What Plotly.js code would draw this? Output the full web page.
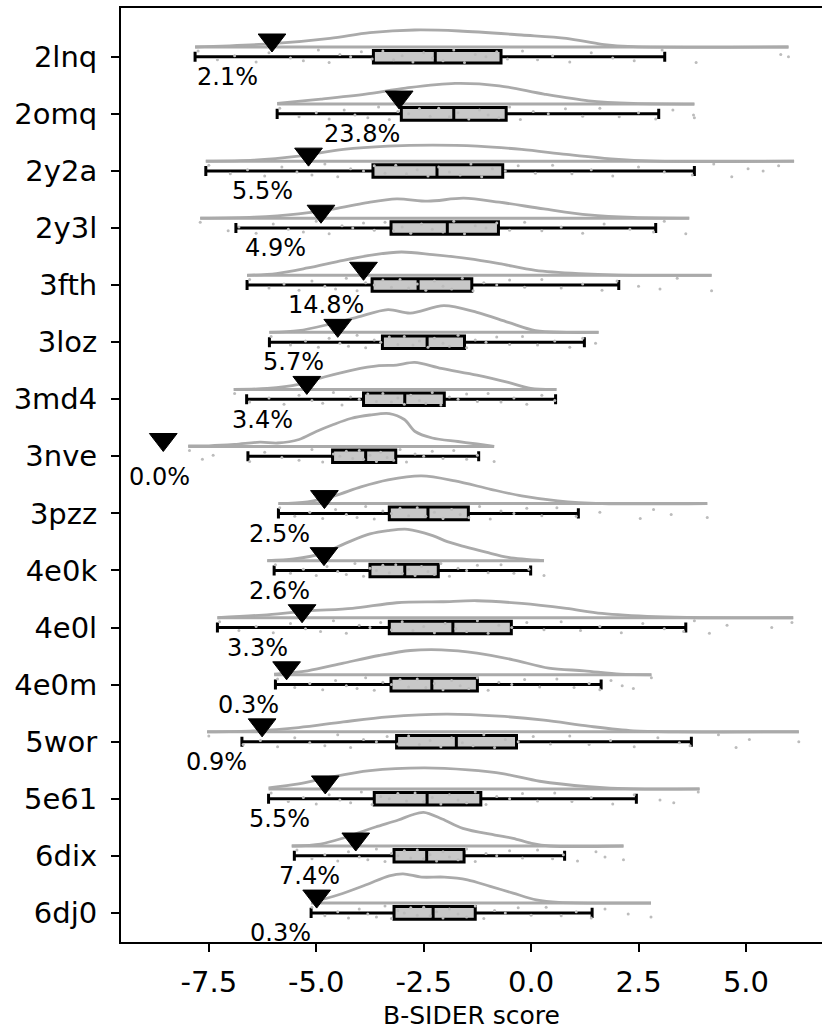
<!DOCTYPE html>
<html>
<head>
<meta charset="utf-8">
<script src="https://cdn.plot.ly/plotly-3.0.1.min.js"></script>
<style>html,body{margin:0;padding:0;background:#fff;}#chart{width:822px;height:1030px;}</style>
</head>
<body>
<div id="chart"></div>
<script>
// ---- data ----
const names = ['2lnq','2omq','2y2a','2y3l','3fth','3loz','3md4','3nve','3pzz','4e0k','4e0l','4e0m','5wor','5e61','6dix','6dj0'];
const thresholds = [-6.03,-3.07,-5.18,-4.89,-3.90,-4.50,-5.22,-8.56,-4.81,-4.82,-5.33,-5.69,-6.26,-4.79,-4.08,-4.99];
const pctLabels = ['2.1%','23.8%','5.5%','4.9%','14.8%','5.7%','3.4%','0.0%','2.5%','2.6%','3.3%','0.3%','0.9%','5.5%','7.4%','0.3%'];
const labelX = [-7.07,-3.94,-6.25,-5.95,-4.77,-5.54,-6.26,-8.65,-5.85,-5.85,-6.37,-6.58,-7.33,-5.85,-5.15,-5.83];
const wLow  = [-7.82,-5.91,-7.57,-6.87,-6.61,-6.09,-6.62,-6.59,-5.88,-5.98,-7.30,-5.95,-6.73,-6.11,-5.51,-5.12];
const q1    = [-3.67,-3.02,-3.68,-3.26,-3.70,-3.46,-3.90,-4.62,-3.30,-3.75,-3.30,-3.26,-3.13,-3.65,-3.19,-3.19];
const med   = [-2.23,-1.80,-2.19,-1.95,-2.63,-2.42,-2.94,-3.85,-2.40,-2.94,-1.82,-2.31,-1.74,-2.42,-2.43,-2.28];
const q3    = [-0.70,-0.58,-0.66,-0.76,-1.38,-1.55,-2.02,-3.15,-1.46,-2.16,-0.46,-1.25,-0.34,-1.17,-1.56,-1.30];
const wHigh = [3.11,2.97,3.80,2.90,2.04,1.24,0.57,-1.22,1.10,-0.01,3.60,1.63,3.73,2.45,0.78,1.42];

// density outlines (x in score units, density = height)
const kdeX = [
  [-7.82,-6.03,-4.68,-3.75,-2.71,-1.67,-0.22,0.82,1.65,2.38,5.99],
  [-5.91,-4.89,-3.85,-2.92,-1.77,-0.74,0.30,1.34,2.38,3.80],
  [-7.57,-6.45,-5.41,-4.37,-3.33,-2.29,-1.25,-0.22,0.82,1.86,2.90,6.12],
  [-7.70,-6.45,-5.41,-4.58,-3.85,-3.13,-2.40,-1.57,-0.74,0.30,1.34,2.38,3.68],
  [-6.61,-5.93,-5.20,-4.37,-3.64,-3.02,-2.29,-1.46,-0.74,0.10,1.13,2.38,4.20],
  [-6.09,-5.41,-4.68,-4.06,-3.33,-2.81,-2.03,-1.26,-0.53,0.10,0.82,1.57],
  [-6.92,-6.14,-5.41,-4.79,-4.16,-3.54,-3.13,-2.71,-2.09,-1.26,-0.53,-0.01,0.59],
  [-7.98,-7.50,-6.90,-6.31,-5.90,-5.40,-5.00,-4.60,-4.20,-3.75,-3.30,-2.95,-2.70,-2.30,-1.70,-1.26,-0.86],
  [-5.88,-5.20,-4.58,-3.96,-3.33,-2.55,-1.77,-0.94,-0.22,0.62,1.65,4.10],
  [-6.14,-5.52,-4.89,-4.27,-3.75,-3.33,-2.87,-2.29,-1.95,-1.55,-1.05,-0.53,0.30],
  [-7.30,-6.24,-5.20,-4.16,-3.13,-2.09,-1.26,-0.22,0.82,1.65,2.90,3.94,6.10],
  [-5.98,-5.20,-4.37,-3.54,-2.81,-2.09,-1.26,-0.42,0.41,1.24,2.07,2.80],
  [-7.54,-6.45,-5.41,-4.37,-3.33,-1.98,-0.74,0.30,1.34,2.38,3.42,6.23],
  [-6.11,-5.41,-4.68,-3.75,-2.50,-1.46,-0.63,0.20,1.34,2.38,3.92],
  [-5.57,-4.90,-4.37,-4.05,-3.62,-3.09,-2.78,-2.50,-2.07,-1.59,-0.84,-0.42,0.01,0.44,2.15],
  [-5.12,-4.48,-3.84,-3.30,-2.98,-2.55,-2.02,-1.48,-0.95,-0.42,0.12,0.65,2.79]
];
const kdeD = [
  [0,3.3,8.7,14.3,17,16,12,8.7,2.7,0.3,0],
  [0.7,5,10,16,20.7,18.3,10,3.3,0.7,0],
  [0,1,5,11.7,15,16,15,11.7,6.7,2.3,0,0],
  [0,1,4.3,9.3,15.3,19.3,17,20,16,9.3,3.3,0.7,0],
  [0,1.7,7.3,15,20.7,23.3,20.7,16.7,11.7,5,1.7,0,0],
  [0,1.7,8.3,15,22.7,19.3,26.7,20,10,1.7,0,0],
  [0,1,5,12.7,19.3,23.7,24.3,27,21,14.3,7,1,0],
  [0.7,0.7,2,4.3,3.5,7,15,22,28,31.5,33,27,15,8.5,5,2.5,0],
  [0,1.7,7.7,16.7,23.7,27.7,22.7,14.3,7.7,2.7,0,0],
  [0,1.7,6.7,18.3,26.7,30,31.3,25,19,14,8.5,3.3,0],
  [0,2.7,6.7,9.3,15,16,17,14.3,9.3,4.3,1,0,0],
  [0.7,4,11.7,19.3,24.3,25,21.7,15,6.7,4,0.7,0],
  [0,1,4.3,10,15,17.7,15.7,11.7,5.7,1,0,0],
  [1,5,11.7,18.3,21,19,15,7.7,2.3,0,0],
  [0,2,8,12.7,19,26,31,33.7,27,17.7,11,7.7,2.7,0,0],
  [0.7,8.3,18.3,27.3,29.3,26,26,23.3,16.7,10,3.3,0.7,0]
];

// individual scores (read approximately, incl. visible tail points)
const dots = [
  [-7.75,-7.3,-6.9,-6.4,-6.1,-5.6,-5.3,-4.95,-4.7,-4.45,-4.2,-3.95,-3.7,-3.45,-3.2,-3.0,-2.75,-2.5,-2.3,-2.05,-1.8,-1.55,-1.3,-1.05,-0.8,-0.55,-0.2,0.15,0.5,0.9,1.4,1.9,2.4,3.05,3.84,5.81,5.99],
  [-5.85,-5.4,-5.0,-4.7,-4.35,-4.1,-3.8,-3.55,-3.3,-3.1,-2.85,-2.6,-2.35,-2.15,-1.9,-1.7,-1.45,-1.2,-1.0,-0.75,-0.5,-0.25,0.05,0.4,0.8,1.2,1.6,2.05,2.5,2.9,3.3,3.78,3.8],
  [-7.5,-7.0,-6.6,-6.2,-5.8,-5.45,-5.1,-4.8,-4.5,-4.2,-3.9,-3.65,-3.4,-3.15,-2.9,-2.65,-2.4,-2.15,-1.9,-1.65,-1.4,-1.15,-0.9,-0.6,-0.3,0.1,0.5,0.95,1.4,1.9,2.5,3.1,3.75,4.25,4.67,5.05,5.4,5.76],
  [-7.7,-7.05,-6.8,-6.4,-6.0,-5.65,-5.3,-5.0,-4.7,-4.4,-4.15,-3.9,-3.65,-3.4,-3.2,-3.0,-2.8,-2.55,-2.3,-2.05,-1.8,-1.55,-1.3,-1.05,-0.8,-0.5,-0.15,0.25,0.7,1.2,1.7,2.3,2.85,3.1,3.6],
  [-6.55,-6.1,-5.75,-5.4,-5.1,-4.8,-4.55,-4.3,-4.05,-3.85,-3.65,-3.45,-3.25,-3.05,-2.85,-2.65,-2.45,-2.25,-2.05,-1.85,-1.6,-1.35,-1.1,-0.8,-0.5,-0.15,0.25,0.7,1.2,1.65,2.0,2.5,3.0,3.4,4.2],
  [-6.05,-5.6,-5.25,-4.95,-4.7,-4.45,-4.25,-4.05,-3.85,-3.65,-3.5,-3.3,-3.1,-2.95,-2.75,-2.6,-2.4,-2.25,-2.05,-1.9,-1.7,-1.5,-1.3,-1.05,-0.8,-0.5,-0.2,0.15,0.55,0.9,1.2,1.5],
  [-6.9,-6.55,-6.1,-5.75,-5.4,-5.1,-4.85,-4.6,-4.4,-4.2,-4.0,-3.8,-3.6,-3.45,-3.25,-3.1,-2.95,-2.8,-2.6,-2.45,-2.3,-2.1,-1.9,-1.7,-1.5,-1.25,-1.0,-0.7,-0.4,-0.1,0.25,0.55],
  [-7.95,-7.65,-7.4,-6.55,-6.2,-5.8,-5.4,-5.1,-4.85,-4.6,-4.45,-4.3,-4.15,-4.0,-3.9,-3.75,-3.6,-3.5,-3.35,-3.2,-3.05,-2.9,-2.7,-2.5,-2.3,-2.05,-1.8,-1.5,-1.25,-0.86],
  [-5.85,-5.5,-5.15,-4.85,-4.55,-4.3,-4.05,-3.85,-3.65,-3.45,-3.25,-3.05,-2.85,-2.65,-2.45,-2.25,-2.05,-1.85,-1.65,-1.45,-1.2,-0.95,-0.7,-0.4,-0.1,0.25,0.6,1.05,1.6,2.54,2.85,3.26,4.1],
  [-5.95,-5.6,-5.3,-5.0,-4.75,-4.5,-4.3,-4.1,-3.9,-3.75,-3.6,-3.45,-3.3,-3.15,-3.0,-2.85,-2.7,-2.55,-2.4,-2.25,-2.1,-1.9,-1.7,-1.5,-1.25,-1.0,-0.7,-0.4,-0.05,0.3],
  [-7.25,-6.8,-6.4,-6.0,-5.6,-5.25,-4.9,-4.6,-4.3,-4.0,-3.75,-3.5,-3.25,-3.0,-2.75,-2.5,-2.25,-2.0,-1.75,-1.5,-1.25,-1.0,-0.75,-0.45,-0.1,0.3,0.7,1.15,1.6,2.1,2.6,3.1,3.55,3.8,4.15,4.56,5.6,6.07],
  [-5.9,-5.5,-5.15,-4.85,-4.55,-4.3,-4.05,-3.85,-3.65,-3.45,-3.25,-3.05,-2.85,-2.65,-2.45,-2.25,-2.05,-1.85,-1.65,-1.45,-1.25,-1.0,-0.75,-0.45,-0.15,0.2,0.6,1.0,1.35,1.6,1.86,2.12,2.38,2.8],
  [-7.5,-6.7,-6.3,-5.9,-5.5,-5.15,-4.8,-4.5,-4.2,-3.9,-3.6,-3.35,-3.1,-2.85,-2.6,-2.35,-2.1,-1.85,-1.6,-1.35,-1.1,-0.85,-0.6,-0.3,0.05,0.45,0.9,1.35,1.85,2.4,2.95,3.45,3.7,4.36,4.77,5.08,6.23],
  [-6.05,-5.65,-5.3,-5.0,-4.7,-4.45,-4.2,-3.95,-3.7,-3.5,-3.3,-3.1,-2.9,-2.7,-2.5,-2.3,-2.1,-1.9,-1.7,-1.5,-1.3,-1.05,-0.8,-0.5,-0.2,0.15,0.55,0.95,1.4,1.9,2.4,3.0,3.32,3.89],
  [-5.45,-5.1,-4.8,-4.5,-4.25,-4.0,-3.8,-3.6,-3.4,-3.25,-3.1,-2.95,-2.8,-2.65,-2.5,-2.35,-2.2,-2.05,-1.9,-1.7,-1.5,-1.3,-1.05,-0.8,-0.5,-0.2,0.15,0.5,0.75,1.08,1.51,1.72,2.15],
  [-5.1,-4.8,-4.5,-4.25,-4.0,-3.8,-3.6,-3.4,-3.25,-3.1,-2.95,-2.8,-2.65,-2.5,-2.35,-2.2,-2.05,-1.9,-1.7,-1.5,-1.3,-1.1,-0.85,-0.6,-0.3,0.0,0.35,0.7,1.05,1.4,1.72,2.26,2.79]
];
const xTicks = [-7.5,-5.0,-2.5,0.0,2.5,5.0];
const xTickText = ['-7.5','-5.0','-2.5','0.0','2.5','5.0'];

// ---- drawing styles ----
const FONT = 'DejaVu Sans, Liberation Sans, sans-serif';
const ROWPX = 57.07;                 // pixels per category step
const BASE = -9.8 / ROWPX;           // baseline of the density outline
const DSCALE = 1 / ROWPX;            // density (px) -> category units
const TRI_DY = -16.8 / ROWPX;
const LABEL_DY = 20.3 / ROWPX;
const JIT = [-0.10,0.05,-0.02,0.09,-0.07,0.02,0.07,-0.12,0.10,-0.04,0.0,-0.09,0.04];

const rows = names.map((_, i) => i);
const traces = [];

// scatter of individual scores
const dx = [], dy = [];
dots.forEach((arr, i) => arr.forEach((v, k) => { dx.push(v); dy.push(i + JIT[k % JIT.length]); }));
traces.push({type:'scatter', mode:'markers', x:dx, y:dy, hoverinfo:'skip',
  marker:{size:3, color:'#bcbcbc'}, showlegend:false});

// density curves (spline) and their baselines
const cx = [], cy = [], bx = [], by = [];
kdeX.forEach((xs, i) => {
  xs.forEach((v, k) => { cx.push(v); cy.push(i + BASE - kdeD[i][k] * DSCALE); });
  cx.push(null); cy.push(null);
  bx.push(xs[0], xs[xs.length - 1], null);
  by.push(i + BASE, i + BASE, null);
});
traces.push({type:'scatter', mode:'lines', x:bx, y:by, hoverinfo:'skip',
  line:{color:'#aaaaaa', width:3}, showlegend:false});
traces.push({type:'scatter', mode:'lines', x:cx, y:cy, hoverinfo:'skip', connectgaps:false,
  line:{color:'#aaaaaa', width:2.8, shape:'spline', smoothing:0.9}, showlegend:false});

// box plots from the read quartiles
traces.push({type:'box', orientation:'h', y:rows, q1:q1, median:med, q3:q3,
  lowerfence:wLow, upperfence:wHigh, width:0.22, whiskerwidth:0.8,
  fillcolor:'#c8c8c8', line:{color:'black', width:3}, boxpoints:false,
  hoverinfo:'skip', showlegend:false});

// threshold markers
traces.push({type:'scatter', mode:'markers', x:thresholds, y:rows.map(r => r + TRI_DY),
  marker:{symbol:'triangle-down', size:24, color:'black', line:{color:'black', width:1}},
  hoverinfo:'skip', showlegend:false});

const annotations = pctLabels.map((t, i) => ({
  x: labelX[i], y: i + LABEL_DY, xref:'x', yref:'y', text:t, showarrow:false,
  xanchor:'center', yanchor:'middle', font:{family:FONT, size:24, color:'black'}
}));

const layout = {
  width:822, height:1030,
  margin:{l:121, r:0, t:8, b:88},
  paper_bgcolor:'white', plot_bgcolor:'white',
  showlegend:false,
  font:{family:FONT, color:'black'},
  xaxis:{
    range:[-9.544, 6.77], tickmode:'array', tickvals:xTicks, ticktext:xTickText,
    ticks:'outside', ticklen:8, tickwidth:2, tickcolor:'black',
    showline:true, linewidth:2, linecolor:'black', mirror:true,
    showgrid:false, zeroline:false,
    tickfont:{family:FONT, size:29, color:'black'}, ticklabelstandoff:5,
    title:{text:'B-SIDER score', font:{family:FONT, size:25, color:'black'}, standoff:11}
  },
  yaxis:{
    range:[15.51, -0.855], tickmode:'array', tickvals:rows, ticktext:names,
    ticks:'outside', ticklen:8, tickwidth:2, tickcolor:'black',
    showline:true, linewidth:2, linecolor:'black', mirror:false,
    showgrid:false, zeroline:false,
    tickfont:{family:FONT, size:29, color:'black'}, ticklabelstandoff:8
  },
  annotations:annotations
};

Plotly.newPlot('chart', traces, layout, {staticPlot:true, displayModeBar:false});
</script>
</body>
</html>
